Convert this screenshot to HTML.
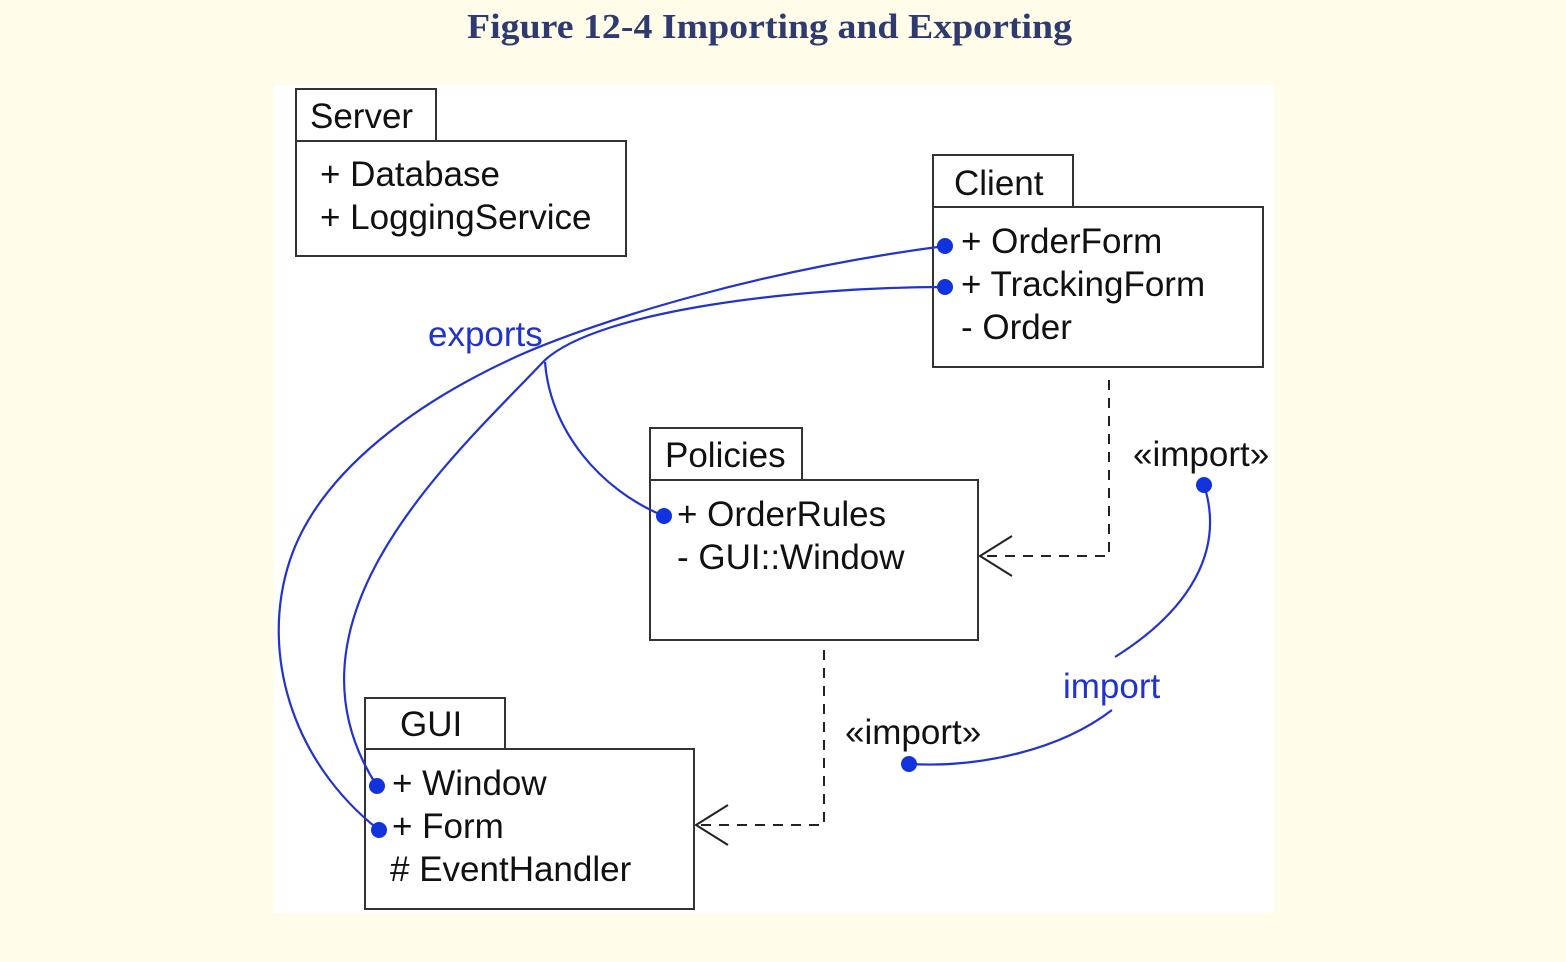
<!DOCTYPE html>
<html><head><meta charset="utf-8"><style>
html,body{margin:0;padding:0;background:#fffdea;}
svg{display:block}
</style></head><body>
<svg width="1566" height="962" viewBox="0 0 1566 962" xmlns="http://www.w3.org/2000/svg">
<rect width="1566" height="962" fill="#fffdea"/>
<text x="467" y="38" textLength="605" lengthAdjust="spacingAndGlyphs" font-family="Liberation Serif, serif" font-weight="bold" font-size="35" fill="#2f3b6f">Figure 12-4 Importing and Exporting</text>
<rect x="274" y="85" width="1000" height="828" fill="#fff"/>
<g fill="#fff" stroke="#333" stroke-width="2">
<rect x="296" y="89" width="140" height="52"/><rect x="296" y="141" width="330" height="115"/>
<rect x="933" y="155" width="140" height="52"/><rect x="933" y="207" width="330" height="160"/>
<rect x="650" y="428" width="152" height="52"/><rect x="650" y="480" width="328" height="160"/>
<rect x="365" y="698" width="140" height="51"/><rect x="365" y="749" width="329" height="160"/>
</g>
<g font-family="Liberation Sans, sans-serif" font-size="35" fill="#111">
<text x="310" y="128">Server</text>
<text x="320" y="186">+ Database</text>
<text x="320" y="229">+ LoggingService</text>
<text x="954" y="195">Client</text>
<text x="961" y="253">+ OrderForm</text>
<text x="961" y="296">+ TrackingForm</text>
<text x="961" y="339">- Order</text>
<text x="665" y="467">Policies</text>
<text x="677" y="526">+ OrderRules</text>
<text x="677" y="569">- GUI::Window</text>
<text x="400" y="736">GUI</text>
<text x="392" y="795">+ Window</text>
<text x="392" y="838">+ Form</text>
<text x="390" y="881"># EventHandler</text>
<text x="1133" y="466">«import»</text>
<text x="845" y="744">«import»</text>
</g>
<g fill="none" stroke="#222" stroke-width="2" stroke-dasharray="10,8">
<path d="M1109,380 V556 H982"/>
<path d="M824,650 V825 H698"/>
</g>
<g fill="none" stroke="#222" stroke-width="2">
<path d="M1012,536 L980,556 L1012,576"/>
<path d="M728,805 L696,825 L728,845"/>
</g>
<g fill="none" stroke="#2233cc" stroke-width="2.2">
<path d="M945,246 C760,270 600,320 520,355 C420,400 320,470 290,560 C260,650 290,760 379,830"/>
<path d="M945,287 C800,287 600,310 545,360 C450,460 270,620 377,786"/>
<path d="M545,362 C550,430 600,490 664,516"/>
<path d="M1204,485 C1225,550 1190,610 1115,657"/>
<path d="M1112,710 C1060,750 980,768 909,764"/>
</g>
<g fill="#1133dd">
<circle cx="945" cy="246" r="8"/><circle cx="945" cy="287" r="8"/>
<circle cx="664" cy="516" r="8"/><circle cx="377" cy="786" r="8"/><circle cx="379" cy="830" r="8"/>
<circle cx="1204" cy="485" r="8"/><circle cx="909" cy="764" r="8"/>
</g>
<g font-family="Liberation Sans, sans-serif" font-size="35" fill="#2233cc">
<text x="428" y="346">exports</text>
<text x="1063" y="698">import</text>
</g>
</svg>
</body></html>
